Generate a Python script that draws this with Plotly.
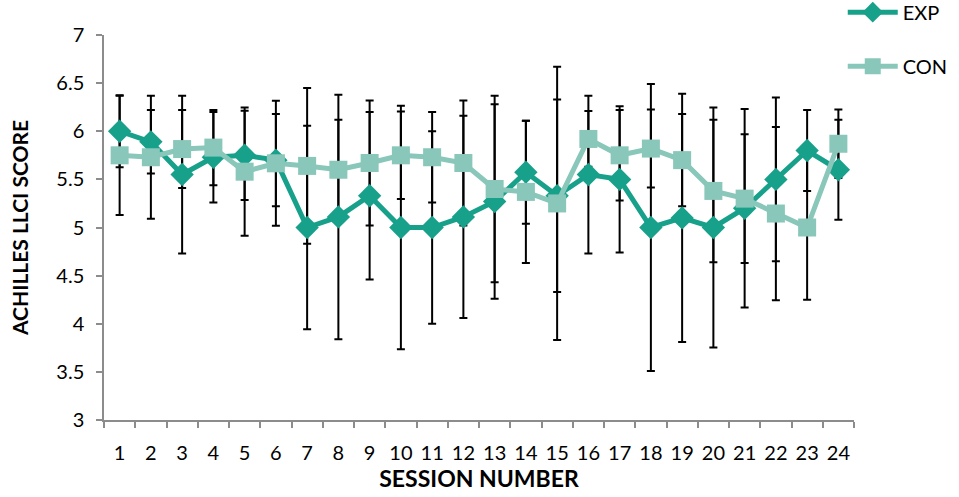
import plotly.graph_objects as go

# Session numbers (x categories)
sessions = [str(i) for i in range(1, 25)]

# EXP group: mean score and standard deviation per session
exp_mean = [6.0, 5.89, 5.55, 5.73, 5.75, 5.70, 5.0, 5.11, 5.33, 5.0, 5.0, 5.11,
            5.27, 5.575, 5.33, 5.55, 5.5, 5.0, 5.1, 5.0, 5.2, 5.5, 5.8, 5.6]
exp_sd = [0.375, 0.33, 0.82, 0.47, 0.464, 0.48, 1.056, 1.27, 0.87, 1.264, 1.0, 1.05,
          1.01, 0.535, 1.0, 0.82, 0.76, 1.49, 1.29, 1.247, 1.03, 0.85, 0.42, 0.52]

# CON group: mean score and standard deviation per session
con_mean = [5.75, 5.73, 5.815, 5.83, 5.58, 5.667, 5.64, 5.6, 5.67, 5.75, 5.73, 5.67,
            5.40, 5.37, 5.25, 5.92, 5.75, 5.82, 5.70, 5.38, 5.30, 5.145, 5.0, 5.87]
con_sd = [0.62, 0.64, 0.405, 0.39, 0.667, 0.65, 0.81, 0.52, 0.65, 0.454, 0.47, 0.65,
          0.97, 0.74, 1.42, 0.29, 0.47, 0.405, 0.48, 0.74, 0.67, 0.9, 0.75, 0.355]

y_ticks = [3, 3.5, 4, 4.5, 5, 5.5, 6, 6.5, 7]

EXP_COLOR = "#17a08a"
CON_COLOR = "#88c7b9"
AXIS_GREY = "#8c8c8c"
FONT = "Lato"

fig = go.Figure()

# Error bars first so that every marker sits on top of them
for mean, sd in ((exp_mean, exp_sd), (con_mean, con_sd)):
    fig.add_trace(go.Scatter(
        x=sessions, y=mean, mode="markers",
        marker=dict(size=1, color="rgba(0,0,0,0)"),
        error_y=dict(type="data", array=sd, visible=True,
                     color="black", thickness=2, width=4),
        showlegend=False, hoverinfo="skip",
    ))

fig.add_trace(go.Scatter(
    x=sessions, y=exp_mean, name="EXP", mode="lines+markers",
    line=dict(color=EXP_COLOR, width=5),
    marker=dict(symbol="diamond", size=18, color=EXP_COLOR),
    legendgroup="exp",
))
fig.add_trace(go.Scatter(
    x=sessions, y=con_mean, name="CON", mode="lines+markers",
    line=dict(color=CON_COLOR, width=5),
    marker=dict(symbol="square", size=18, color=CON_COLOR),
    legendgroup="con",
))

fig.update_layout(
    width=959, height=497,
    margin=dict(l=104, r=105, t=35, b=77, autoexpand=False),
    paper_bgcolor="white", plot_bgcolor="white",
    font=dict(family=FONT, size=20, color="black"),
    legend=dict(x=0.985, y=1.11, xanchor="left", yanchor="top",
                font=dict(family=FONT, size=20),
                tracegroupgap=25, itemwidth=50,
                bgcolor="rgba(0,0,0,0)"),
    xaxis=dict(
        type="category", range=[-0.5, len(sessions) - 0.5],
        tickson="boundaries", ticks="outside", ticklen=6,
        tickcolor=AXIS_GREY, tickwidth=1.5, tickangle=0,
        showline=True, linecolor=AXIS_GREY, linewidth=1.5,
        showgrid=False, zeroline=False, automargin=False,
        tickfont=dict(family=FONT, size=20), ticklabelstandoff=14,
        title=dict(text="<b>SESSION NUMBER</b>", font=dict(family=FONT, size=23),
                   standoff=6),
    ),
    yaxis=dict(
        range=[3, 7], tickvals=y_ticks, ticktext=[f"{v:g}" for v in y_ticks],
        ticks="outside", ticklen=6, tickcolor=AXIS_GREY, tickwidth=1.5,
        showline=True, linecolor=AXIS_GREY, linewidth=1.5,
        showgrid=False, zeroline=False, automargin=False,
        tickfont=dict(family=FONT, size=20), ticklabelstandoff=8,
        title=dict(text="<b>ACHILLES LLCI SCORE</b>", font=dict(family=FONT, size=21),
                   standoff=22),
    ),
)

fig.write_html("out.html")
